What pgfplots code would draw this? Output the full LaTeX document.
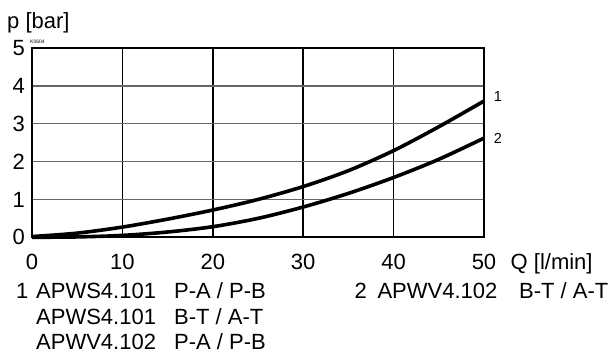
\documentclass[border=0pt]{standalone}
\usepackage{fontspec}
\setmainfont{Liberation Sans}
\usepackage{pgfplots}
\pgfplotsset{compat=1.18}
\newcommand{\bigf}{\fontsize{22bp}{25bp}\selectfont}
\begin{document}
\begin{tikzpicture}
\useasboundingbox (-32bp,-115.7bp) rectangle (581bp,237.3bp);
\begin{axis}[at={(0bp,0bp)}, anchor=south west, scale only axis,
  width=452bp, height=189.3bp,
  xmin=0, xmax=50, ymin=0, ymax=5,
  xtick={0,10,...,50}, ytick={0,1,...,5},
  grid=major,
  x grid style={black, line width=1.6bp},
  y grid style={black!60, line width=1.4bp},
  axis line style={line width=1.8bp},
  major tick length=0pt,
  /pgf/number format/assume math mode=true,
  ticklabel style={font=\bigf, inner sep=0pt},
  xticklabel style={anchor=base, yshift=-32bp},
  yticklabel style={anchor=east, xshift=-7bp},
  clip=false]
\addplot[black, line width=3.6bp, smooth] coordinates {
(0,0.02) (5,0.11) (10,0.27) (15,0.48) (20,0.72) (25,1.0) (30,1.34) (35,1.76) (40,2.29) (45,2.92) (50,3.6)};
\addplot[black, line width=3.6bp, smooth] coordinates {
(0,0) (5,0.01) (10,0.05) (15,0.14) (20,0.28) (25,0.5) (30,0.8) (35,1.16) (40,1.58) (45,2.06) (50,2.62)};
\end{axis}
\node[anchor=base west, inner sep=0pt, font=\bigf] at (-25bp,209bp) {p [bar]};
\node[anchor=base west, inner sep=0pt, font=\fontsize{5bp}{6bp}\selectfont] at (-2bp,194bp) {K0604};
\node[anchor=base west, inner sep=0pt, font=\bigf] at (478.5bp,-32bp) {Q [l/min]};
\node[inner sep=0pt, font=\fontsize{14.5bp}{16bp}\selectfont] at (466bp,140.6bp) {1};
\node[inner sep=0pt, font=\fontsize{14.5bp}{16bp}\selectfont] at (466bp,99bp) {2};
\begin{scope}[every node/.style={anchor=base west, inner sep=0pt, font=\bigf}]
\node at (-16.1bp,-61bp) {1};
\node at (4bp,-61bp) {APWS4.101};
\node at (142bp,-61bp) {P-A / P-B};
\node at (4bp,-87.5bp) {APWS4.101};
\node at (142bp,-87.5bp) {B-T / A-T};
\node at (4bp,-112.5bp) {APWV4.102};
\node at (142bp,-112.5bp) {P-A / P-B};
\node at (322.3bp,-61bp) {2};
\node at (345.3bp,-61bp) {APWV4.102};
\node at (487bp,-61bp) {B-T / A-T};
\end{scope}
\end{tikzpicture}
\end{document}
